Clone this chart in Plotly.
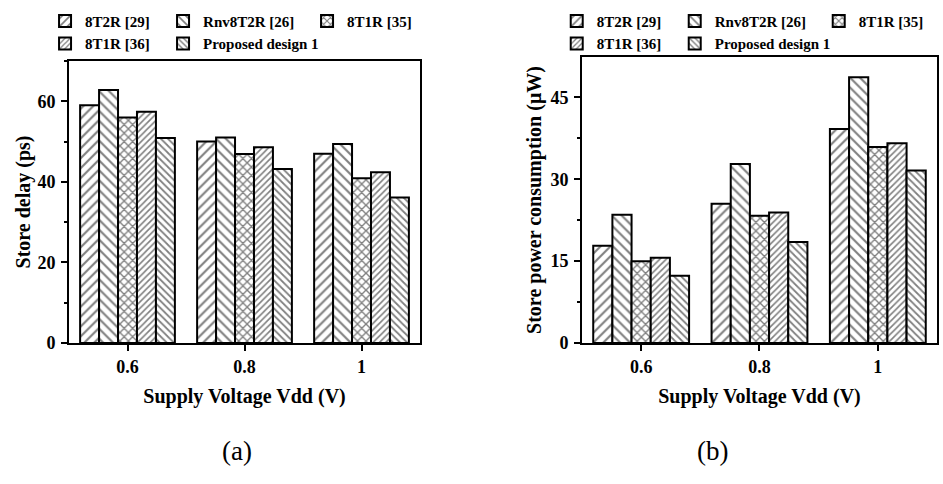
import plotly.graph_objects as go

# ---------------- data ----------------
categories = ["0.6", "0.8", "1"]
series_names = ["8T2R [29]", "Rnv8T2R [26]", "8T1R [35]", "8T1R [36]", "Proposed design 1"]

delay_8T2R_29 = [59.0, 50.0, 47.0]
delay_Rnv8T2R_26 = [62.8, 51.0, 49.4]
delay_8T1R_35 = [56.0, 46.9, 40.9]
delay_8T1R_36 = [57.4, 48.6, 42.4]
delay_proposed = [50.9, 43.2, 36.1]

power_8T2R_29 = [17.8, 25.5, 39.2]
power_Rnv8T2R_26 = [23.5, 32.8, 48.7]
power_8T1R_35 = [15.0, 23.3, 35.9]
power_8T1R_36 = [15.6, 23.9, 36.6]
power_proposed = [12.3, 18.5, 31.6]

delay_ticks = [0, 20, 40, 60]
power_ticks = [0, 15, 30, 45]

# ---------------- styles ----------------
FONT = "Liberation Serif"
patterns = [
    dict(shape="/", size=7, solidity=0.3),
    dict(shape="\\", size=7, solidity=0.3),
    dict(shape="x", size=6, solidity=0.4),
    dict(shape="/", size=4.5, solidity=0.35),
    dict(shape="\\", size=5, solidity=0.35),
]
groups = ["A", "B", "C", "A", "B"]
legend_widths = [73, 99, 70, 73, 99]

delay_series = [delay_8T2R_29, delay_Rnv8T2R_26, delay_8T1R_35, delay_8T1R_36, delay_proposed]
power_series = [power_8T2R_29, power_Rnv8T2R_26, power_8T1R_35, power_8T1R_36, power_proposed]

fig = go.Figure()


def add_bars(values_list, xa, ya, legend_id, suffix):
    for i, (name, vals) in enumerate(zip(series_names, values_list)):
        fig.add_trace(go.Bar(
            x=categories, y=vals, name=name,
            xaxis=xa, yaxis=ya, legend=legend_id,
            legendgroup=groups[i] + suffix,
            legendwidth=legend_widths[i],
            marker=dict(
                color="white",
                line=dict(color="black", width=2),
                pattern=dict(fgcolor="black", bgcolor="white", fillmode="overlay", **patterns[i]),
            ),
        ))


add_bars(delay_series, "x", "y", "legend", "a")
add_bars(power_series, "x2", "y2", "legend2", "b")

axis_common = dict(
    showline=True, linewidth=2, linecolor="black", mirror=True,
    showgrid=False, zeroline=False,
    ticks="outside", tickwidth=2, ticklen=6, tickcolor="black",
    tickfont=dict(family=FONT, size=18, color="black", weight="bold"),
)

legend_common = dict(
    orientation="h", traceorder="grouped", xanchor="left", yanchor="top",
    font=dict(family=FONT, size=15, color="black", weight="bold"),
    bgcolor="rgba(0,0,0,0)", borderwidth=0,
)

fig.update_layout(
    width=943, height=484,
    margin=dict(l=69, r=6, t=57, b=140.6, autoexpand=False),
    paper_bgcolor="white", plot_bgcolor="white",
    barmode="group", bargap=0.19, bargroupgap=0,
    xaxis=dict(domain=[0, 0.4044], range=[-0.5, 2.5], anchor="y",
               title=dict(text="Supply Voltage Vdd (V)", standoff=13,
                          font=dict(family=FONT, size=20, color="black", weight="bold")),
               **axis_common),
    yaxis=dict(domain=[0, 0.986], range=[0, 70], anchor="x",
               tickvals=delay_ticks, ticklabelstandoff=2,
               minor=dict(dtick=10, ticks="outside", ticklen=3, tickwidth=2, tickcolor="black"),
               title=dict(text="Store delay (ps)", standoff=1,
                          font=dict(family=FONT, size=20, color="black", weight="bold")),
               **axis_common),
    xaxis2=dict(domain=[0.591, 1], range=[-0.5, 2.5], anchor="y2",
                title=dict(text="Supply Voltage Vdd (V)", standoff=13,
                           font=dict(family=FONT, size=20, color="black", weight="bold")),
                **axis_common),
    yaxis2=dict(domain=[0, 1], range=[0, 52.4], anchor="x2",
                tickvals=power_ticks, ticklabelstandoff=2,
                minor=dict(dtick=7.5, ticks="outside", ticklen=3, tickwidth=2, tickcolor="black"),
                title=dict(text="Store power consumption (μW)", standoff=3,
                           font=dict(family=FONT, size=20, color="black", weight="bold")),
                **axis_common),
    legend=dict(x=-0.0276, y=1.183, **legend_common),
    legend2=dict(x=0.5619, y=1.183, **legend_common),
    annotations=[
        dict(text="(a)", xref="paper", yref="paper", x=0.1935, y=-0.379,
             showarrow=False, xanchor="center", yanchor="middle",
             font=dict(family=FONT, size=27, color="black")),
        dict(text="(b)", xref="paper", yref="paper", x=0.7408, y=-0.379,
             showarrow=False, xanchor="center", yanchor="middle",
             font=dict(family=FONT, size=27, color="black")),
    ],
    showlegend=True,
)

fig.write_html("out.html")
